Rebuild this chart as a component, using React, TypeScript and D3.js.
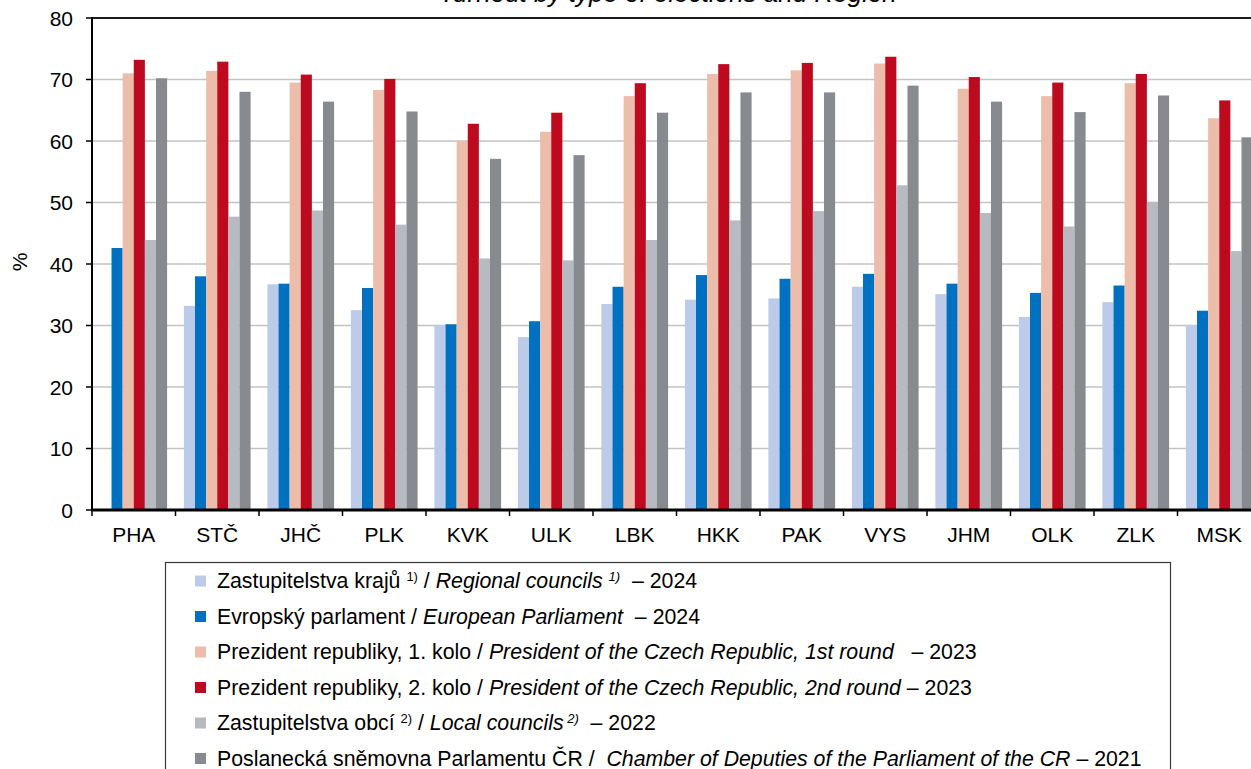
import React from "react";
import * as d3 from "d3";

const categories = ["PHA", "STČ", "JHČ", "PLK", "KVK", "ULK", "LBK", "HKK", "PAK", "VYS", "JHM", "OLK", "ZLK", "MSK"];

const regionalCouncils: (number | null)[] = [null, 33.2, 36.7, 32.5, 30.1, 28.1, 33.5, 34.2, 34.4, 36.3, 35.1, 31.4, 33.8, 30.1];
const europeanParliament = [42.6, 38.0, 36.8, 36.1, 30.2, 30.7, 36.3, 38.2, 37.6, 38.4, 36.8, 35.3, 36.5, 32.4];
const president1 = [71.0, 71.4, 69.5, 68.3, 60.0, 61.5, 67.3, 70.9, 71.5, 72.6, 68.5, 67.3, 69.4, 63.7];
const president2 = [73.2, 72.9, 70.8, 70.1, 62.8, 64.6, 69.4, 72.5, 72.7, 73.7, 70.4, 69.5, 70.9, 66.6];
const localCouncils = [43.9, 47.7, 48.7, 46.4, 40.9, 40.6, 43.9, 47.1, 48.6, 52.8, 48.3, 46.1, 50.1, 42.1];
const chamber = [70.2, 68.0, 66.4, 64.8, 57.1, 57.7, 64.6, 67.9, 67.9, 69.0, 66.4, 64.7, 67.4, 60.6];

const yTicks = [0, 10, 20, 30, 40, 50, 60, 70, 80];

const seriesKeys = ["regional", "ep", "pres1", "pres2", "local", "chamber"];
const seriesValues = [regionalCouncils, europeanParliament, president1, president2, localCouncils, chamber];
const seriesColors = ["#bccbe9", "#0070c0", "#ecbdaa", "#bd0a1f", "#b7bac0", "#878a8f"];

type Part = { t: string; i?: boolean; sup?: boolean };
const legendRows: Part[][] = [
  [{ t: "Zastupitelstva krajů " }, { t: "1)", sup: true }, { t: " / " }, { t: "Regional councils ", i: true }, { t: "1)", i: true, sup: true }, { t: "  – 2024" }],
  [{ t: "Evropský parlament / " }, { t: "European Parliament", i: true }, { t: "  – 2024" }],
  [{ t: "Prezident republiky, 1. kolo / " }, { t: "President of the Czech Republic, 1st round", i: true }, { t: "   – 2023" }],
  [{ t: "Prezident republiky, 2. kolo / " }, { t: "President of the Czech Republic, 2nd round", i: true }, { t: " – 2023" }],
  [{ t: "Zastupitelstva obcí " }, { t: "2)", sup: true }, { t: " / " }, { t: "Local councils", i: true }, { t: " 2)", i: true, sup: true }, { t: "  – 2022" }],
  [{ t: "Poslanecká sněmovna Parlamentu ČR /  " }, { t: "Chamber of Deputies of the Parliament of the CR", i: true }, { t: " – 2021" }],
];

const FONT = "'Liberation Sans', Arial, sans-serif";

export default function App() {
  const W = 1251, H = 769;
  const left = 92, right = 1261, top = 18, bottom = 510;

  const x = d3.scaleBand<string>().domain(categories).range([left, right]).paddingInner(0).paddingOuter(0);
  const bw = x.bandwidth();
  const pad = 8.4;
  const xs = d3.scaleBand<string>().domain(seriesKeys).range([pad, bw - pad]).padding(0);
  const y = d3.scaleLinear().domain([0, 80]).range([bottom, top]);

  const boundaries = categories.map((c) => x(c)!).concat([right]);
  const LF = 21.3;

  return (
    <svg width={W} height={H} style={{ position: "fixed", left: 0, top: 0, background: "#fff" }} fontFamily={FONT}>
      <rect x={0} y={0} width={W} height={H} fill="#fff" />
      <text x={668} y={1.5} textAnchor="middle" fontSize={26} fontStyle="italic" fill="#000">
        Turnout by type of elections and Region
      </text>

      {/* gridlines */}
      {yTicks.filter((t) => t > 0 && t < 80).map((t) => (
        <line key={t} x1={left} x2={right} y1={y(t)} y2={y(t)} stroke="#c3c3c3" strokeWidth={1.5} />
      ))}
      <line x1={left} x2={right} y1={y(80)} y2={y(80)} stroke="#1a1a1a" strokeWidth={2} />

      {/* bars */}
      {seriesKeys.map((k, si) => (
        <g key={k}>
          {categories.map((c, ci) => {
            const v = seriesValues[si][ci];
            if (v == null) return null;
            return (
              <rect key={c} x={x(c)! + xs(k)!} y={y(v)} width={xs.bandwidth()} height={y(0) - y(v)} fill={seriesColors[si]} />
            );
          })}
        </g>
      ))}

      {/* axes */}
      <line x1={left} x2={left} y1={top - 1} y2={bottom} stroke="#000" strokeWidth={2} />
      {yTicks.map((t) => (
        <g key={t}>
          <line x1={left - 6} x2={left} y1={y(t)} y2={y(t)} stroke="#000" strokeWidth={1.5} />
          <text x={73} y={y(t) + 7.5} textAnchor="end" fontSize={21} fill="#000">{t}</text>
        </g>
      ))}
      <line x1={left - 1} x2={right} y1={bottom} y2={bottom} stroke="#000" strokeWidth={3} />
      {boundaries.map((b, i) => (
        <line key={i} x1={b} x2={b} y1={bottom} y2={bottom + 6} stroke="#000" strokeWidth={1.5} />
      ))}
      {categories.map((c) => (
        <text key={c} x={x(c)! + bw / 2} y={542} textAnchor="middle" fontSize={21} fill="#000">{c}</text>
      ))}
      <text transform="translate(27,262) rotate(-90)" textAnchor="middle" fontSize={21} fill="#000">%</text>

      {/* legend */}
      <rect x={165.5} y={562.5} width={1005} height={230} fill="#fff" stroke="#3a3a3a" strokeWidth={1.2} />
      {legendRows.map((row, ri) => {
        const cy = 581 + ri * 35.5;
        return (
          <g key={ri}>
            <rect x={195} y={cy - 5.5} width={11} height={11} fill={seriesColors[ri]} />
            <text x={217} y={cy + 7} fontSize={LF} fill="#000" style={{ whiteSpace: "pre" }}>
              {row.map((p, pi) => (
                <tspan
                  key={pi}
                  fontStyle={p.i ? "italic" : "normal"}
                  fontSize={p.sup ? 13 : LF}
                  baselineShift={p.sup ? "55%" : undefined}
                >
                  {p.t}
                </tspan>
              ))}
            </text>
          </g>
        );
      })}
    </svg>
  );
}
